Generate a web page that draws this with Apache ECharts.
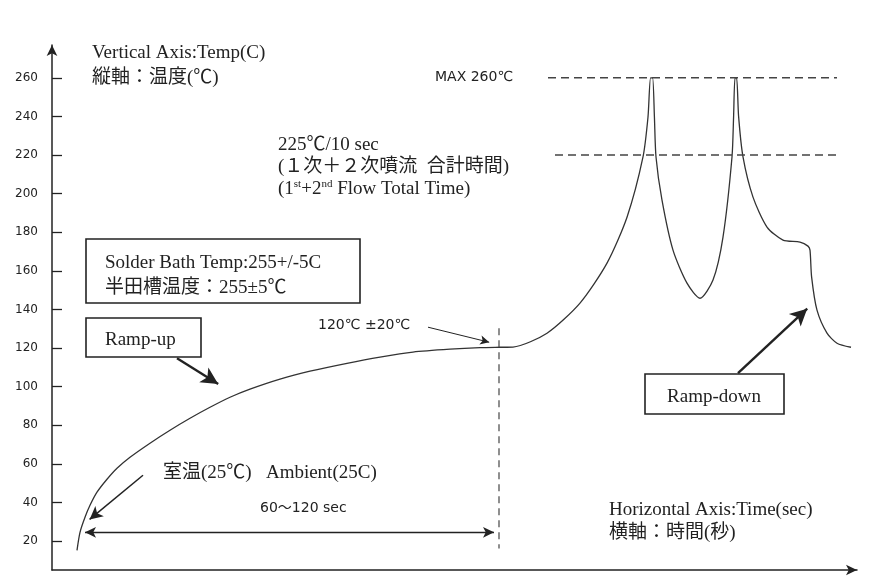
<!DOCTYPE html>
<html>
<head>
<meta charset="utf-8">
<script src="https://cdn.jsdelivr.net/npm/echarts@6/dist/echarts.min.js"></script>
<style>html,body{margin:0;padding:0;background:#fff;}#c{width:873px;height:583px;}</style>
</head>
<body>
<div id="c"></div>
<script>
// ---- data (time in arbitrary seconds scale, temperature in °C) ----
const timeSec = [12.5, 14, 16.5, 19, 22.5, 27.5, 32.5, 39, 49, 59, 69, 79, 89, 99, 114, 129,
  147.5, 164, 180.5, 199, 214, 224, 230.5,
  247.5, 264, 277.5, 287.5, 295.5, 298, 299.3, 300.3, 301.2, 302, 305, 310.5, 317.5, 324,
  330.5, 335.5, 340, 340.8, 341.5, 342.3, 343.3, 345.5, 350.5, 357.5, 365.5, 374, 378,
  379, 379.8, 382.5, 387.5, 392.5, 399.5];
const tempC = [15.2, 24.5, 32.3, 38.5, 45.3, 52, 57.7, 63.4, 70.7, 77.4, 83.6, 89.3, 94.5, 98.7, 103.9, 108,
  112.1, 115.3, 117.9, 119.4, 120.2, 120.4, 120.5,
  127.7, 143.3, 164, 187.8, 219, 239.7, 260, 260, 240, 219, 196.6, 170.7, 153.6, 145.8,
  155.2, 177.5, 219, 240, 260, 260, 240, 219, 198.2, 182.7, 175.9, 174.9, 172.8,
  170.7, 156.9, 139.6, 127.7, 122.5, 120.4];
const yTicks = [20, 40, 60, 80, 100, 120, 140, 160, 180, 200, 220, 240, 260];
const maxTempLine = [[248, 260], [392.5, 260]];
const flowTempLine = [[251.5, 220], [392.5, 220]];
const preheatLine = [[223.5, 130.3], [223.5, 16.2]];
// annotation arrows: [start, end]
const rampUpArrow = [[62.5, 114.7], [83.1, 101.4]];
const ambientArrow = [[45.5, 54.1], [18.8, 31.2]];
const preheatArrow = [[188, 130.8], [218.6, 123]];
const rampDownArrow = [[343, 107], [377.6, 140.4]];
const spanArrow = [[16.5, 24.5], [221, 24.5]];

const chart = echarts.init(document.getElementById('c'));
const serif = "'Liberation Serif','Noto Sans CJK JP',serif";
const sans = "'DejaVu Sans','Noto Sans CJK JP',sans-serif";
const ink = '#222';

function arrow(pair, size, width, both) {
  return [
    { coord: pair[0], symbol: both ? 'arrow' : 'none', symbolSize: size, lineStyle: { width: width, color: ink, type: 'solid' } },
    { coord: pair[1], symbol: 'arrow', symbolSize: size }
  ];
}
function txt(x, y, text, font, extra) {
  return Object.assign({ type: 'text', x: x, y: y, silent: true,
    style: Object.assign({ text: text, font: font, fill: ink, align: 'left', verticalAlign: 'middle' }, (extra || {})) });
}
function box(x, y, w, h) {
  return { type: 'rect', silent: true, shape: { x: x, y: y, width: w, height: h },
    style: { fill: '#fff', stroke: ink, lineWidth: 1.6 } };
}

const option = {
  animation: false,
  backgroundColor: '#fff',
  grid: { left: 52, right: 16, top: 45, bottom: 13, containLabel: false },
  xAxis: {
    type: 'value', min: 0, max: 402.5,
    axisLine: { show: true, symbol: ['none', 'arrow'], symbolSize: [8, 11], lineStyle: { color: ink, width: 1.5 } },
    axisTick: { show: false }, axisLabel: { show: false }, splitLine: { show: false }
  },
  yAxis: {
    type: 'value', min: 5, max: 277,
    axisLine: { show: true, symbol: ['none', 'arrow'], symbolSize: [8, 11], lineStyle: { color: ink, width: 1.5 } },
    axisTick: { show: true, inside: true, length: 10, customValues: yTicks, lineStyle: { color: ink, width: 1.3 } },
    axisLabel: { show: true, customValues: yTicks, margin: 14, color: ink, fontSize: 12, fontFamily: 'DejaVu Sans' },
    splitLine: { show: false }
  },
  series: [
    { type: 'line', data: timeSec.map((t, i) => [t, tempC[i]]), showSymbol: false, smooth: 0.25,
      lineStyle: { color: '#333', width: 1.3 }, silent: true, z: 3 },
    { type: 'line', data: maxTempLine, showSymbol: false, silent: true,
      lineStyle: { color: '#444', width: 1.4, type: [8, 5] } },
    { type: 'line', data: flowTempLine, showSymbol: false, silent: true,
      lineStyle: { color: '#444', width: 1.4, type: [8, 5] } },
    { type: 'line', data: preheatLine, showSymbol: false, silent: true,
      lineStyle: { color: '#444', width: 1.2, type: [7, 5] },
      markLine: {
        silent: true, animation: false, label: { show: false },
        emphasis: { disabled: true },
        data: [
          arrow(rampUpArrow, [13, 17], 2.4, false),
          arrow(ambientArrow, [10, 13], 1.5, false),
          arrow(preheatArrow, [7, 9], 1, false),
          arrow(rampDownArrow, [13, 17], 2.4, false),
          arrow(spanArrow, [8, 11], 1.3, true)
        ]
      }
    }
  ],
  graphic: [
    txt(92, 53, 'Vertical Axis:Temp(C)', '19px ' + serif),
    txt(92, 78, '縦軸：温度(℃)', '19px ' + serif),
    txt(435, 77, 'MAX 260℃', '14px ' + sans),
    txt(278, 145, '225℃/10 sec', '19px ' + serif),
    txt(278, 167, '(１次＋２次噴流  合計時間)', '19px ' + serif),
    txt(278, 189, '(1{sup|st}+2{sup|nd} Flow Total Time)', '19px ' + serif,
      { lineHeight: 20, rich: { sup: { fontSize: 11, lineHeight: 11, fontFamily: 'Liberation Serif', verticalAlign: 'top' } } }),
    box(86, 239, 274, 64),
    txt(105, 263, 'Solder Bath Temp:255+/-5C', '19px ' + serif),
    txt(105, 288, '半田槽温度：255±5℃', '19px ' + serif),
    box(86, 318, 115, 39),
    txt(105, 340, 'Ramp-up', '19px ' + serif),
    txt(318, 325, '120℃ ±20℃', '14px ' + sans),
    txt(163, 473, '室温(25℃)   Ambient(25C)', '19px ' + serif),
    txt(260, 508, '60〜120 sec', '14px ' + sans),
    box(645, 374, 139, 40),
    txt(714, 397, 'Ramp-down', '19px ' + serif, { align: 'center' }),
    txt(609, 510, 'Horizontal Axis:Time(sec)', '19px ' + serif),
    txt(609, 533, '横軸：時間(秒)', '19px ' + serif)
  ]
};
chart.setOption(option);
</script>
</body>
</html>
